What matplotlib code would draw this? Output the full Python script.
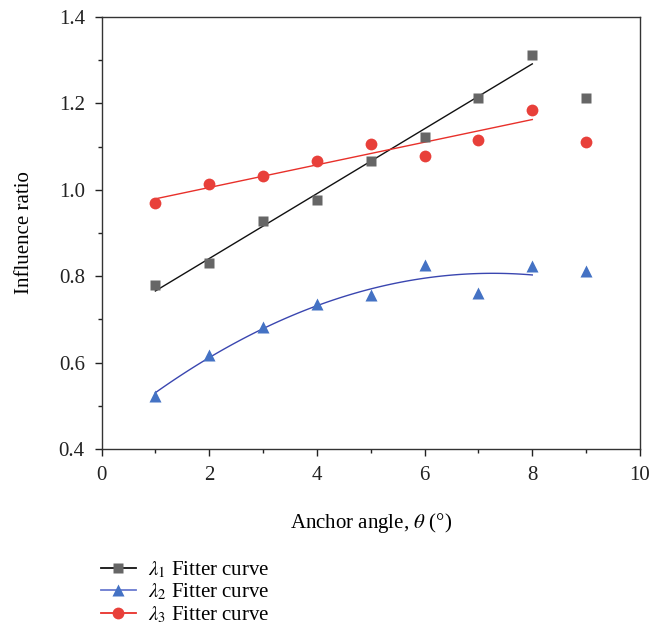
import numpy as np
import matplotlib
matplotlib.use("Agg")
import matplotlib.pyplot as plt
from matplotlib.lines import Line2D
from matplotlib.ticker import MultipleLocator

plt.rcParams["font.family"] = ["Liberation Serif", "DejaVu Serif"]
plt.rcParams["mathtext.fontset"] = "stix"

# datos
angulo = [1, 2, 3, 4, 5, 6, 7, 8, 9]
lambda1 = [0.780, 0.831, 0.928, 0.976, 1.067, 1.122, 1.212, 1.313, 1.213]
lambda2 = [0.523, 0.618, 0.683, 0.735, 0.757, 0.827, 0.760, 0.824, 0.812]
lambda3 = [0.969, 1.013, 1.033, 1.066, 1.107, 1.078, 1.116, 1.185, 1.111]

# el ajuste usa solo los puntos 1..8
n_ajuste = 8
grados = [1, 2, 1]
etiquetas = [r"$\lambda_1$ Fitter curve", r"$\lambda_2$ Fitter curve", r"$\lambda_3$ Fitter curve"]

fig = plt.figure(figsize=(6.63, 6.25), dpi=100)
ax = fig.add_axes([0.1531, 0.2816, 0.8122, 0.6912])

series = [lambda1, lambda2, lambda3]
marcadores = ["s", "^", "o"]
tam = [7.5, 9, 8.5]
col_marca = ["#666666", "#4472C4", "#E8403A"]
col_linea = ["#111111", "#3A46B0", "#E8302A"]
col_leyenda = ["#111111", "#6A7BD0", "#E8302A"]

x = np.array(angulo, dtype=float)
handles = []
for ys, m, s, cm, cl, clg, g, et in zip(series, marcadores, tam, col_marca, col_linea, col_leyenda, grados, etiquetas):
    ys = np.array(ys)
    coef = np.polyfit(x[:n_ajuste], ys[:n_ajuste], g)
    xf = np.linspace(x[0], x[n_ajuste - 1], 100)
    ax.plot(xf, np.polyval(coef, xf), color=cl, lw=1.0, zorder=2)
    ax.plot(x, ys, linestyle="none", marker=m, ms=s, color=cm, mec="none", zorder=3)
    handles.append(Line2D([], [], color=clg, lw=1.3, marker=m, ms=s, mfc=cm, mec="none", label=et))

ax.set_xlim(0, 10)
ax.set_ylim(0.4, 1.4)
ax.xaxis.set_major_locator(MultipleLocator(2))
ax.xaxis.set_minor_locator(MultipleLocator(1))
ax.yaxis.set_major_locator(MultipleLocator(0.2))
ax.yaxis.set_minor_locator(MultipleLocator(0.1))
ax.yaxis.set_major_formatter(matplotlib.ticker.FormatStrFormatter("%.1f"))
ax.tick_params(which="both", direction="out", top=False, right=False, labelsize=15, colors="#222222")
ax.tick_params(which="major", length=5, width=1, pad=7)
ax.tick_params(which="minor", length=3, width=1)
for sp in ax.spines.values():
    sp.set_linewidth(1.0)
    sp.set_color("#333333")

ax.set_xlabel(r"Anchor angle, $\theta$ (°)", fontsize=15, labelpad=19)
ax.set_ylabel("Influence ratio", fontsize=15, labelpad=18)

fig.legend(handles=handles, loc="upper left", bbox_to_anchor=(0.152, 0.105),
           frameon=False, fontsize=15, handlelength=1.7, handletextpad=0.55,
           labelspacing=0.08, borderpad=0, borderaxespad=0)

fig.savefig("out.png", dpi=100)
